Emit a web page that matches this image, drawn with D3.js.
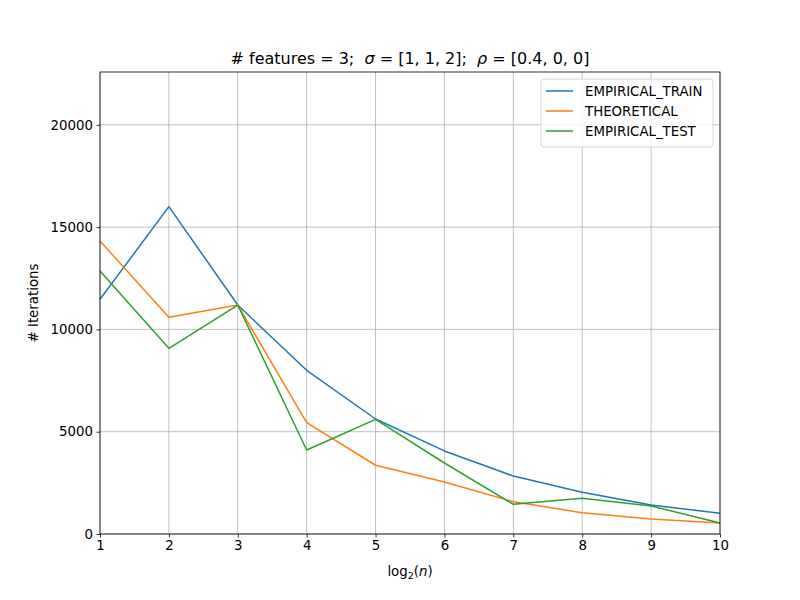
<!DOCTYPE html>
<html>
<head>
<meta charset="utf-8">
<script src="https://cdn.jsdelivr.net/npm/d3@7"></script>
<style>
body { margin: 0; background: #fff; }
text { font-family: "DejaVu Sans", sans-serif; }
</style>
</head>
<body>
<div class="chart"></div>
<script>
var xValues = [1, 2, 3, 4, 5, 6, 7, 8, 9, 10];
var empiricalTrain = [11470, 16000, 11190, 8000, 5620, 4060, 2830, 2040, 1420, 1010];
var theoretical = [14320, 10590, 11190, 5440, 3360, 2540, 1580, 1040, 730, 540];
var empiricalTest = [12850, 9075, 11190, 4105, 5600, 3470, 1450, 1745, 1370, 540];
var yTicks = [0, 5000, 10000, 15000, 20000];
var seriesNames = ["EMPIRICAL_TRAIN", "THEORETICAL", "EMPIRICAL_TEST"];
var colors = ["#1f77b4", "#ff7f0e", "#2ca02c"];

var marg = {t: 72, r: 80, b: 66, l: 100};
var wid = 800 - marg.l - marg.r;
var hei = 600 - marg.t - marg.b;

var svg = d3.select(".chart")
    .append("svg")
    .attr("width", 800)
    .attr("height", 600)
    .append("g")
    .attr("transform", "translate(" + marg.l + "," + marg.t + ")");

var xscale = d3.scaleLinear()
    .domain([1, 10])
    .range([0, wid]);

var yscale = d3.scaleLinear()
    .domain([0, 22580])
    .range([hei, 0]);

// grid
svg.append("g")
    .selectAll("line")
    .data(xValues)
    .enter().append("line")
    .attr("x1", function(d) { return xscale(d); })
    .attr("x2", function(d) { return xscale(d); })
    .attr("y1", 0)
    .attr("y2", hei)
    .style("stroke", "#b0b0b0")
    .style("stroke-width", 0.8);

svg.append("g")
    .selectAll("line")
    .data(yTicks)
    .enter().append("line")
    .attr("x1", 0)
    .attr("x2", wid)
    .attr("y1", function(d) { return yscale(d); })
    .attr("y2", function(d) { return yscale(d); })
    .style("stroke", "#b0b0b0")
    .style("stroke-width", 0.8);

var line = d3.line()
    .x(function(d, i) { return xscale(xValues[i]); })
    .y(function(d) { return yscale(d); });

[empiricalTrain, theoretical, empiricalTest].forEach(function(s, i) {
    svg.append("path")
        .datum(s)
        .attr("d", line)
        .style("fill", "none")
        .style("stroke", colors[i])
        .style("stroke-width", 1.5)
        .style("stroke-linejoin", "round");
});

var xAxis = d3.axisBottom(xscale)
    .tickValues(xValues)
    .tickFormat(d3.format("d"))
    .tickSize(3.5)
    .tickPadding(3.5);

var yAxis = d3.axisLeft(yscale)
    .tickValues(yTicks)
    .tickFormat(d3.format("d"))
    .tickSize(3.5)
    .tickPadding(3.5);

var gx = svg.append("g")
    .attr("transform", "translate(0," + hei + ")")
    .call(xAxis);
var gy = svg.append("g").call(yAxis);

[gx, gy].forEach(function(g) {
    g.select(".domain").remove();
    g.selectAll("text")
        .style("font-size", "13.33px")
        .style("font-family", "DejaVu Sans")
        .attr("fill", "#000");
    g.selectAll("line").style("stroke", "#000").style("stroke-width", 0.8);
});

// frame
svg.append("rect")
    .attr("width", wid)
    .attr("height", hei)
    .style("fill", "none")
    .style("stroke", "#000")
    .style("stroke-width", 0.8);

// title
var title = svg.append("text")
    .attr("x", wid / 2)
    .attr("y", -8)
    .style("text-anchor", "middle")
    .style("font-size", "16px");
title.append("tspan").text("# features = 3;\u00a0\u00a0");
title.append("tspan").style("font-style", "italic").text("σ");
title.append("tspan").text(" = [1, 1, 2];\u00a0\u00a0");
title.append("tspan").style("font-style", "italic").text("ρ");
title.append("tspan").text(" = [0.4, 0, 0]");

// axis labels
var xl = svg.append("text")
    .attr("x", wid / 2)
    .attr("y", hei + 42)
    .style("text-anchor", "middle")
    .style("font-size", "13.33px");
xl.append("tspan").text("log");
xl.append("tspan").attr("dy", 3).style("font-size", "9.5px").text("2");
xl.append("tspan").attr("dy", -3).text("(");
xl.append("tspan").style("font-style", "italic").text("n");
xl.append("tspan").text(")");

svg.append("text")
    .attr("transform", "rotate(-90)")
    .attr("x", -hei / 2)
    .attr("y", -62)
    .style("text-anchor", "middle")
    .style("font-size", "13.33px")
    .text("# Iterations");

// legend
var legW = 172, legH = 68;
var leg = svg.append("g")
    .attr("transform", "translate(" + (wid - legW - 7) + ",7)");
leg.append("rect")
    .attr("width", legW)
    .attr("height", legH)
    .attr("rx", 3)
    .style("fill", "#fff")
    .style("fill-opacity", 0.8)
    .style("stroke", "#cccccc")
    .style("stroke-width", 0.8);

var items = leg.selectAll(".legend")
    .data(seriesNames)
    .enter().append("g")
    .attr("class", "legend")
    .attr("transform", function(d, i) {
        return "translate(0," + (12 + i * 20) + ")";
    });
items.append("line")
    .attr("x1", 5)
    .attr("x2", 32)
    .style("stroke", function(d, i) { return colors[i]; })
    .style("stroke-width", 1.5);
items.append("text")
    .attr("x", 44)
    .attr("dy", "0.35em")
    .style("font-size", "13.33px")
    .text(function(d) { return d; });
</script>
</body>
</html>
